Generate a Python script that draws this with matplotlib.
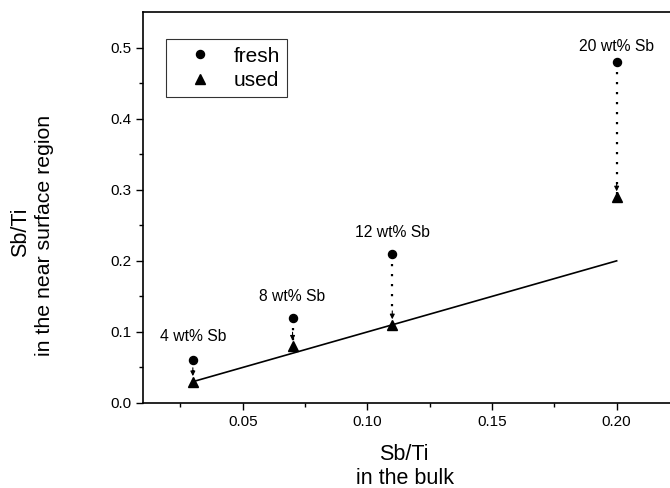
import numpy as np
import matplotlib.pyplot as plt

plt.rcParams['font.family'] = ['Liberation Sans', 'DejaVu Sans']

# datos
bulk = [0.03, 0.07, 0.11, 0.20]
fresh = [0.06, 0.12, 0.21, 0.48]
used = [0.03, 0.08, 0.11, 0.29]
labels = ['4 wt% Sb', '8 wt% Sb', '12 wt% Sb', '20 wt% Sb']
line_x = [0.03, 0.20]
line_y = [0.03, 0.20]

W, H = 670, 488
fig = plt.figure(figsize=(6.7, 4.88), dpi=100)
ax = fig.add_axes([0.2134, 0.1742, 0.80, 0.801])

ax.plot(line_x, line_y, color='k', lw=1.2)

# flechas punteadas de fresh a used
for x, f, u in zip(bulk, fresh, used):
    ax.plot([x, x], [f, u], color='k', lw=1.6, linestyle=(0, (1, 3.5)))
    ax.annotate('', xy=(x, u), xytext=(0, 10), textcoords='offset points',
                arrowprops=dict(arrowstyle='-|>', color='k', lw=0.8,
                                shrinkA=0, shrinkB=4, mutation_scale=7))

ax.plot(bulk, fresh, 'o', color='k', markersize=5.8, label='fresh', zorder=5)
ax.plot(bulk, used, '^', color='k', markersize=7.5, label='used', zorder=5)

# separacion de cada etiqueta sobre su punto (en puntos)
sep = [17, 15, 15, 11]
for x, f, t, d in zip(bulk, fresh, labels, sep):
    ax.annotate(t, xy=(x, f), xytext=(0, d), textcoords='offset points',
                ha='center', va='center', fontsize=11.3)

ax.set_xlim(0.01, 0.225)
ax.set_ylim(0, 0.55)
ax.set_xticks([0.05, 0.10, 0.15, 0.20])
ax.set_xticks([0.025, 0.075, 0.125, 0.175], minor=True)
ax.set_yticks([0.0, 0.1, 0.2, 0.3, 0.4, 0.5])
ax.set_yticks([0.05, 0.15, 0.25, 0.35, 0.45], minor=True)
ax.set_xticklabels(['0.05', '0.10', '0.15', '0.20'])
ax.set_yticklabels(['0.0', '0.1', '0.2', '0.3', '0.4', '0.5'])
ax.tick_params(labelsize=11, length=5, width=1)
ax.tick_params(which='minor', length=3, width=1)
for s in ax.spines.values():
    s.set_linewidth(1.2)

# titulos de los ejes (posiciones en pixeles de la figura)
fig.text(404 / W, 1 - 455 / H, 'Sb/Ti', ha='center', va='center', fontsize=15.5)
fig.text(405 / W, 1 - 479 / H, 'in the bulk', ha='center', va='center', fontsize=15.5)
fig.text(21 / W, 1 - 232 / H, 'Sb/Ti', ha='center', va='center', fontsize=15.5,
         rotation=90)
fig.text(45 / W, 1 - 235 / H, 'in the near surface region', ha='center',
         va='center', fontsize=15.3, rotation=90)

leg = ax.legend(loc='upper left', bbox_to_anchor=(0.043, 0.93), fontsize=15,
                frameon=True, fancybox=False, edgecolor='k', handletextpad=0.3,
                borderpad=0.35, labelspacing=0.25, handlelength=2.6,
                borderaxespad=0)
leg.get_frame().set_linewidth(0.8)

plt.savefig('out.png', dpi=100)
